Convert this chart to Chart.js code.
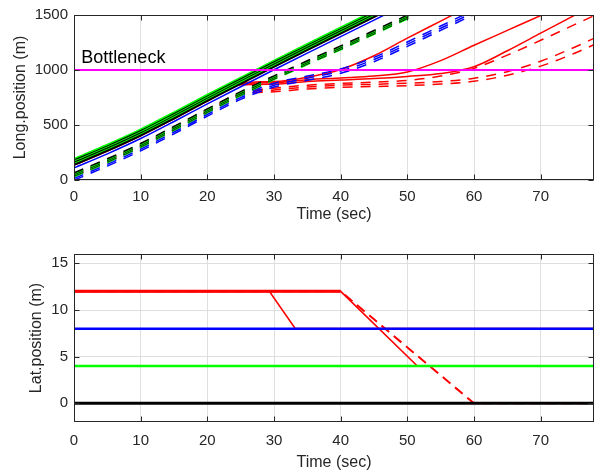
<!DOCTYPE html>
<html>
<head>
<meta charset="utf-8">
<script src="https://cdn.jsdelivr.net/npm/chart.js"></script>
<style>
  body { margin: 0; background: #fff; }
  canvas { position: absolute; left: 0; }
  #longChart { top: 0; }
  #latChart { top: 228px; }
</style>
</head>
<body>
<canvas id="longChart" width="595" height="228"></canvas>
<canvas id="latChart" width="595" height="247"></canvas>
<script>
// ---- data ----
const timeTicks = [0, 10, 20, 30, 40, 50, 60, 70];
const longTicks = [0, 500, 1000, 1500];
const latTicks = [0, 5, 10, 15];

// sample times for the longitudinal trajectories (s)
const timeLong = [0, 5, 10, 15, 20, 25, 30, 35, 40, 45, 50, 55, 60, 65, 70, 75, 80];

// solid platoon
const greenS1 = [195, 323, 462, 617, 777, 933, 1087, 1239, 1389, 1539];
const blackS1 = [185, 313, 452, 607, 767, 923, 1077, 1229, 1379, 1529];
const greenS2 = [175, 303, 442, 597, 757, 913, 1067, 1219, 1369, 1519];
const blackS2 = [165, 293, 432, 587, 747, 903, 1057, 1209, 1359, 1509];
const greenS3 = [155, 283, 422, 577, 737, 893, 1047, 1199, 1349, 1499, 1649];
const blackS3 = [145, 273, 412, 567, 727, 883, 1037, 1189, 1339, 1489, 1639];
const blackS4 = [135, 263, 402, 557, 717, 873, 1027, 1179, 1329, 1479, 1629];
const blueS = [110, 238, 377, 532, 692, 848, 1002, 1154, 1304, 1454, 1604];

// dashed platoon
const blackD1 = [65, 193, 332, 487, 647, 803, 947, 1084, 1219, 1359, 1499, 1644];
const greenD1 = [58, 186, 325, 480, 640, 796, 940, 1077, 1212, 1352, 1492, 1637];
const blackD2 = [51, 179, 318, 473, 633, 789, 933, 1070, 1205, 1345, 1485, 1630];
const greenD2 = [44, 172, 311, 466, 626, 782, 926, 1063, 1198, 1338, 1478, 1623];
const blackD3 = [37, 165, 304, 459, 619, 775, 919, 1056, 1191, 1331, 1471, 1616];
const greenD3 = [30, 158, 297, 452, 612, 768, 912, 1049, 1184, 1324, 1464, 1609];
const blueD1 = [30, 158, 297, 452, 612, 765, 880, 945, 1010, 1115, 1255, 1400, 1545];
const blueD2 = [14, 142, 281, 436, 596, 749, 862, 925, 990, 1095, 1235, 1380, 1525];
const blueD3 = [-2, 126, 265, 420, 580, 733, 845, 906, 970, 1075, 1215, 1360, 1505];

// red lane vehicles (blocked by the bottleneck)
const redA = [155, 283, 422, 577, 737, 880, 895, 935, 1005, 1130, 1290, 1445, 1600];
const redB = [145, 273, 412, 567, 727, 872, 885, 912, 928, 945, 982, 1085, 1225, 1360, 1495, 1630];
const redC = [135, 263, 402, 557, 717, 865, 872, 895, 908, 922, 942, 968, 1030, 1175, 1335, 1495, 1655];
const redD = [55, 183, 322, 477, 637, 790, 835, 862, 878, 890, 905, 945, 1015, 1135, 1270, 1410, 1550];
const redE = [45, 173, 312, 467, 627, 783, 818, 845, 862, 870, 880, 895, 925, 985, 1080, 1205, 1345];
const redF = [35, 163, 302, 457, 617, 776, 802, 828, 842, 850, 858, 872, 898, 952, 1035, 1150, 1285];

const bottleneckPos = 1000;

// lateral positions (m)
const timeLane = [0, 78];
const laneBlack = [0, 0];
const laneGreen = [4, 4];
const laneBlue = [8, 8];
const timeRedA = [0, 29.3, 33.2, 78];
const latRedA = [12, 12, 8, 8];
const timeRedB = [0, 40, 51.5, 78];
const latRedB = [12, 12, 4, 4];
const timeRedD = [0, 40, 60, 78];
const latRedD = [12, 12, 0, 0];

// ---- styling ----
const GREEN = '#00ff00', BLACK = '#000000', BLUE = '#0000ff', RED = '#ff0000', MAGENTA = '#ff00ff';
const TEXT = '#262626';
const DASH = [10, 8];
Chart.defaults.font.family = '"Liberation Sans", Arial, sans-serif';
Chart.defaults.color = TEXT;

function zip(ts, vs) {
  return vs.map((v, i) => ({ x: ts[i], y: v }));
}

function line(ts, vs, color, opts = {}) {
  return Object.assign({
    data: zip(ts, vs),
    borderColor: color,
    borderWidth: 1.5,
    pointRadius: 0,
    fill: false,
    clip: 0,
    borderDash: []
  }, opts);
}

// box with inward ticks like matlab
const boxPlugin = {
  id: 'box',
  afterDraw(chart) {
    const { ctx, chartArea: a, scales } = chart;
    const L = Math.round(a.left) + 0.5, R = Math.round(a.right) - 0.5;
    const T = Math.round(a.top) + 0.5, B = Math.round(a.bottom) - 0.5;
    ctx.save();
    ctx.strokeStyle = TEXT;
    ctx.lineWidth = 1;
    ctx.strokeRect(L, T, R - L, B - T);
    ctx.beginPath();
    scales.x.ticks.forEach(t => {
      const x = Math.round(scales.x.getPixelForValue(t.value)) + 0.5;
      ctx.moveTo(x, B); ctx.lineTo(x, B - 5);
      ctx.moveTo(x, T); ctx.lineTo(x, T + 5);
    });
    scales.y.ticks.forEach(t => {
      const y = Math.round(scales.y.getPixelForValue(t.value)) + 0.5;
      ctx.moveTo(L, y); ctx.lineTo(L + 5, y);
      ctx.moveTo(R, y); ctx.lineTo(R - 5, y);
    });
    ctx.stroke();
    ctx.restore();
  }
};

const labelPlugin = {
  id: 'bottleneckLabel',
  afterDatasetsDraw(chart) {
    const { ctx, scales } = chart;
    ctx.save();
    ctx.fillStyle = BLACK;
    ctx.font = '18px "Liberation Sans", Arial, sans-serif';
    ctx.textBaseline = 'alphabetic';
    ctx.fillText('Bottleneck', scales.x.getPixelForValue(1.1), scales.y.getPixelForValue(1065));
    ctx.restore();
  }
};

function makeOptions(cfg) {
  return {
    responsive: false,
    animation: false,
    layout: { padding: { top: cfg.padTop, right: 1, left: 0, bottom: 0 } },
    plugins: { legend: { display: false }, tooltip: { enabled: false } },
    scales: {
      x: {
        type: 'linear', min: 0, max: 78,
        afterBuildTicks: s => { s.ticks = timeTicks.map(v => ({ value: v })); },
        afterFit: s => { s.height = cfg.xHeight; },
        grid: { color: '#dfdfdf', drawTicks: false },
        border: { display: false },
        ticks: { font: { size: 15 }, padding: cfg.xTickPad, maxRotation: 0, callback: v => String(v) },
        title: { display: true, text: 'Time (sec)', font: { size: 16 }, padding: { top: 0, bottom: cfg.xTitlePad } }
      },
      y: {
        type: 'linear', min: cfg.yMin, max: cfg.yMax,
        afterBuildTicks: s => { s.ticks = cfg.yTicks.map(v => ({ value: v })); },
        afterFit: s => { s.width = 74; },
        grid: { color: '#dfdfdf', drawTicks: false },
        border: { display: false },
        ticks: { font: { size: 15 }, padding: 6, callback: v => String(v) },
        title: { display: true, text: cfg.yTitle, font: { size: 16 }, padding: { top: cfg.yTitlePad, bottom: 0 } }
      }
    }
  };
}

// ---- top: longitudinal position ----
const mono = { cubicInterpolationMode: 'monotone' };
const solid = (vs, c) => line(timeLong, vs, c, Object.assign({ order: 1 }, mono));
const dashed = (vs, c, order) => line(timeLong, vs, c, Object.assign({ order: order, borderDash: DASH }, mono));

new Chart(document.getElementById('longChart'), {
  type: 'line',
  data: {
    datasets: [
      line(timeLane, [bottleneckPos, bottleneckPos], MAGENTA, { order: 0, borderWidth: 2 }),
      solid(greenS1, GREEN), solid(blackS1, BLACK), solid(greenS2, GREEN), solid(blackS2, BLACK),
      solid(greenS3, GREEN), solid(blackS3, BLACK), solid(blackS4, BLACK),
      line(timeLong, blueS, BLUE, Object.assign({ order: 2 }, mono)),
      dashed(blackD1, BLACK, 3), dashed(greenD1, GREEN, 3), dashed(blackD2, BLACK, 3),
      dashed(greenD2, GREEN, 3), dashed(blackD3, BLACK, 3), dashed(greenD3, GREEN, 3),
      dashed(blueD1, BLUE, 4), dashed(blueD2, BLUE, 4), dashed(blueD3, BLUE, 4),
      line(timeLong, redA, RED, Object.assign({ order: 5 }, mono)),
      line(timeLong, redB, RED, Object.assign({ order: 5 }, mono)),
      line(timeLong, redC, RED, Object.assign({ order: 5 }, mono)),
      dashed(redD, RED, 5), dashed(redE, RED, 5), dashed(redF, RED, 5)
    ]
  },
  options: makeOptions({
    padTop: 9, xHeight: 48, xTickPad: 8, xTitlePad: 4,
    yMin: 0, yMax: 1500, yTicks: longTicks, yTitle: 'Long.position (m)', yTitlePad: 11
  }),
  plugins: [boxPlugin, labelPlugin]
});

// ---- bottom: lateral position ----
new Chart(document.getElementById('latChart'), {
  type: 'line',
  data: {
    datasets: [
      line(timeLane, laneBlack, BLACK, { order: 0, borderWidth: 3 }),
      line(timeLane, laneGreen, GREEN, { order: 0, borderWidth: 2.5 }),
      line(timeLane, laneBlue, BLUE, { order: 0, borderWidth: 2.5 }),
      line(timeRedA, latRedA, RED, { order: 2, borderWidth: 1.6 }),
      line(timeRedB, latRedB, RED, { order: 2, borderWidth: 1.6 }),
      line(timeRedD, latRedD, RED, { order: 1, borderWidth: 2, borderDash: [10, 6] }),
      line([0, 40], [12, 12], RED, { order: 3, borderWidth: 3 })
    ]
  },
  options: makeOptions({
    padTop: 26, xHeight: 53, xTickPad: 10, xTitlePad: 3,
    yMin: -2, yMax: 16, yTicks: latTicks, yTitle: 'Lat.position (m)', yTitlePad: 27
  }),
  plugins: [boxPlugin]
});
</script>
</body>
</html>
